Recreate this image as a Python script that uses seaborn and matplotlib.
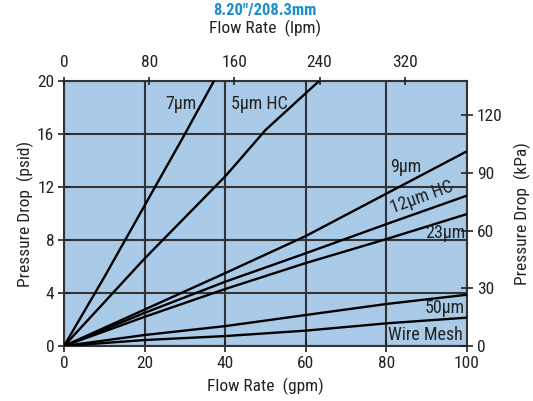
import matplotlib
matplotlib.use("Agg")
import matplotlib.pyplot as plt
import seaborn as sns
import pandas as pd

# ---- data ----
s7_x = [0, 10, 20, 30, 37.2]
s7_y = [0, 5.2, 10.6, 16.0, 20]
s5hc_x = [0, 20, 40, 50, 63.3]
s5hc_y = [0, 6.6, 12.8, 16.3, 20]
s9_x = [0, 20, 40, 60, 80, 100]
s9_y = [0, 2.75, 5.5, 8.3, 11.5, 14.7]
s12hc_x = [0, 20, 40, 60, 80, 100]
s12hc_y = [0, 2.5, 4.85, 7.0, 9.2, 11.35]
s23_x = [0, 20, 40, 60, 80, 100]
s23_y = [0, 2.2, 4.3, 6.26, 8.07, 9.96]
s50_x = [0, 20, 40, 60, 80, 100]
s50_y = [0, 0.83, 1.5, 2.34, 3.17, 3.87]
wm_x = [0, 20, 40, 60, 80, 100]
wm_y = [0, 0.45, 0.75, 1.16, 1.71, 2.14]

series_names = ["7µm", "5µm HC", "9µm", "12µm HC", "23µm", "50µm", "Wire Mesh"]
series_x = [s7_x, s5hc_x, s9_x, s12hc_x, s23_x, s50_x, wm_x]
series_y = [s7_y, s5hc_y, s9_y, s12hc_y, s23_y, s50_y, wm_y]

label_pos_x = [29, 48.6, 84.9, 88.8, 94.5, 94.5, 89.6]
label_pos_y = [18.3, 18.3, 13.5, 11.2, 8.5, 2.87, 0.83]
label_rot = [0, 0, 0, 20, 0, 0, 0]

gpm_ticks = [0, 20, 40, 60, 80, 100]
psid_ticks = [0, 4, 8, 12, 16, 20]
lpm_ticks = [0, 80, 160, 240, 320]
kpa_ticks = [0, 30, 60, 90, 120]

title_text = '8.20"/208.3mm'

rows = []
for n, xs, ys in zip(series_names, series_x, series_y):
    for a, b in zip(xs, ys):
        rows.append({"series": n, "gpm": a, "psid": b})
df = pd.DataFrame(rows)

sns.set_theme(style="white")
plt.rcParams['font.family'] = ['Liberation Sans Narrow', 'Roboto Condensed',
                               'Archivo Narrow', 'DejaVu Sans']

TXT = "#222222"
FS = 12.5

fig = plt.figure(figsize=(5.33, 4.01), dpi=100)
ax = fig.add_axes([64/533, 1 - 346/401, (467-64)/533, (346-81)/401])
ax.set_facecolor("#a9cbe8")

sns.lineplot(data=df, x="gpm", y="psid", hue="series", units="series",
             estimator=None, sort=False,
             palette={n: "black" for n in series_names}, legend=False,
             linewidth=1.7, ax=ax, zorder=3)

ax.set_xlim(0, 100)
ax.set_ylim(0, 20)
ax.set_xticks(gpm_ticks)
ax.set_yticks(psid_ticks)
ax.grid(True, color="#333333", linewidth=1.5)
ax.set_axisbelow(True)
for sp in ax.spines.values():
    sp.set_color("#333333")
    sp.set_linewidth(1.5)
ax.tick_params(axis="both", labelsize=FS, colors=TXT, direction="inout",
               length=8, width=1.2, pad=3)
ax.set_xlabel("Flow Rate  (gpm)", fontsize=FS, color=TXT, labelpad=5)
ax.set_ylabel("Pressure Drop  (psid)", fontsize=FS, color=TXT, labelpad=2)

for n, lx, ly, r in zip(series_names, label_pos_x, label_pos_y, label_rot):
    ax.text(lx, ly, n, fontsize=13, color=TXT, ha="center", va="center",
            rotation=r, zorder=4)

axt = ax.twiny()
axt.set_xlim(0, 100 * 3.785)
axt.set_xticks(lpm_ticks)
axt.tick_params(axis="x", labelsize=FS, colors=TXT, direction="inout",
                length=6, width=1.2, pad=5)
axt.set_xlabel("Flow Rate  (lpm)", fontsize=FS, color=TXT, labelpad=16)
for sp in axt.spines.values():
    sp.set_visible(False)

axr = ax.twinx()
axr.set_ylim(0, 20 * 6.895)
axr.set_yticks(kpa_ticks)
axr.tick_params(axis="y", labelsize=FS, colors=TXT, direction="inout",
                length=8, width=1.2, pad=3)
axr.set_ylabel("Pressure Drop  (kPa)", fontsize=FS, color=TXT, labelpad=8)
for sp in axr.spines.values():
    sp.set_visible(False)

fig.text(265/533, 1 - 10/401, title_text, fontsize=12, fontweight="bold",
         color="#1b8fd2", ha="center", va="center")

fig.savefig("out.png", dpi=100)
